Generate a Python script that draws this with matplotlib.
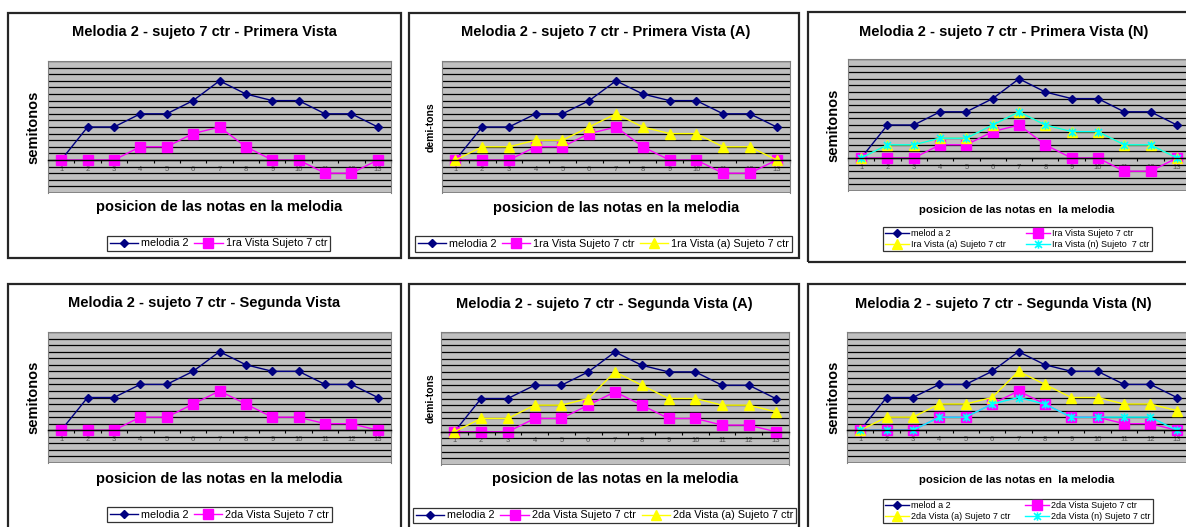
import matplotlib
matplotlib.use("Agg")
import matplotlib.pyplot as plt
from matplotlib.patches import Rectangle
from matplotlib.path import Path

plt.rcParams['font.family'] = ['Liberation Sans', 'DejaVu Sans']

# ---------------- data ----------------
notes = list(range(1, 14))
melodia2 = [0, 5, 5, 7, 7, 9, 12, 10, 9, 9, 7, 7, 5]
vista1 = [0, 0, 0, 2, 2, 4, 5, 2, 0, 0, -2, -2, 0]
vista1_a = [0, 2, 2, 3, 3, 5, 7, 5, 4, 4, 2, 2, 0]
vista1_n = [0, 2, 2, 3, 3, 5, 7, 5, 4, 4, 2, 2, 0]
vista2 = [0, 0, 0, 2, 2, 4, 6, 4, 2, 2, 1, 1, 0]
vista2_a = [0, 2, 2, 4, 4, 5, 9, 7, 5, 5, 4, 4, 3]
vista2_n = [0, 0, 0, 2, 2, 4, 5, 4, 2, 2, 2, 2, 0]

W, H = 1186, 527
fig = plt.figure(figsize=(W / 100, H / 100), dpi=100)
fig.patch.set_facecolor('white')

star = Path([(-1, -1), (1, 1), (-1, 1), (1, -1), (0, -1.2), (0, 1.2)],
            [Path.MOVETO, Path.LINETO, Path.MOVETO, Path.LINETO, Path.MOVETO, Path.LINETO])

STYLES = {
    'mel': dict(color='#000080', marker='D', markersize=4, markerfacecolor='#000080', markeredgecolor='#000080'),
    'v': dict(color='#FF00FF', marker='s', markersize=6.5, markerfacecolor='#FF00FF', markeredgecolor='#FF00FF'),
    'a': dict(color='#FFFF00', marker='^', markersize=7, markerfacecolor='#FFFF00', markeredgecolor='#FFFF00'),
    'n': dict(color='#00FFFF', marker=star, markersize=6, markerfacecolor='none', markeredgecolor='#00FFFF', markeredgewidth=1.2),
}


def fbox(x0, y0, x1, y1):
    return [x0 / W, 1 - y1 / H, (x1 - x0) / W, (y1 - y0) / H]


def panel(box, plot, title, title_xy, title_fs, ylabel, ylab_x, ylab_fs,
          xlab, xlab_xy, xlab_fs, series, leg_box, leg_ncol, leg_fs):
    bx0, by0, bx1, by1 = box
    fig.patches.append(Rectangle((bx0 / W, 1 - by1 / H), (bx1 - bx0) / W, (by1 - by0) / H,
                                 transform=fig.transFigure, fill=False,
                                 edgecolor='#262626', linewidth=1.6, zorder=0))
    ax = fig.add_axes(fbox(*plot))
    ax.set_facecolor('#C0C0C0')
    ax.set_xlim(0.5, 13.5)
    ax.set_ylim(-5, 15)
    ax.set_yticks(range(-5, 16))
    ax.yaxis.grid(True, color='black', linewidth=0.9)
    ax.set_axisbelow(True)
    ax.tick_params(axis='y', left=False, labelleft=False)
    for s in ['top', 'right', 'left']:
        ax.spines[s].set_color('#808080')
        ax.spines[s].set_linewidth(0.8)
    ax.spines['bottom'].set_position(('data', 0))
    ax.spines['bottom'].set_color('black')
    ax.spines['bottom'].set_linewidth(1.0)
    ax.set_xticks(notes)
    ax.set_xticklabels([str(n) for n in notes])
    ax.set_xticks([n + 0.5 for n in range(0, 14)], minor=True)
    ax.tick_params(axis='x', which='major', length=0, labelsize=5.5, labelcolor='#555555', pad=4)
    ax.tick_params(axis='x', which='minor', length=2.5, width=0.8, color='black', direction='out')
    ax.axhline(-5, color='#808080', linewidth=1.2)
    ax.axhline(15, color='#808080', linewidth=1.2)

    handles = []
    for key, vals, label in series:
        ln, = ax.plot(notes, vals, linewidth=1.0, label=label, clip_on=False, **STYLES[key])
        handles.append(ln)

    fig.text(title_xy[0] / W, 1 - title_xy[1] / H, title, ha='center', va='center',
             fontsize=title_fs, fontweight='bold')
    fig.text(ylab_x / W, 1 - (plot[1] + plot[3]) / 2 / H, ylabel, ha='center', va='center',
             rotation=90, fontsize=ylab_fs, fontweight='bold')
    fig.text(xlab_xy[0] / W, 1 - xlab_xy[1] / H, xlab, ha='center', va='center',
             fontsize=xlab_fs, fontweight='bold')

    lx0, ly0, lx1, ly1 = leg_box
    if leg_ncol == 2 and len(handles) == 4:
        order = [0, 2, 1, 3]
        handles = [handles[i] for i in order]
    leg = fig.legend(handles=handles, labels=[h.get_label() for h in handles],
                     loc='center', bbox_to_anchor=fbox(lx0, ly0, lx1, ly1),
                     bbox_transform=fig.transFigure, ncol=leg_ncol, mode='expand',
                     fontsize=leg_fs, frameon=True, fancybox=False, borderpad=0.25,
                     handlelength=2.6, handletextpad=0.3, columnspacing=1.0,
                     labelspacing=0.15, borderaxespad=0.0, numpoints=1)
    leg.get_frame().set_edgecolor('black')
    leg.get_frame().set_linewidth(0.9)
    return ax


XL = 'posicion de las notas en la melodia'
XL2 = 'posicion de las notas en  la melodia'
TFS = 10.5
LFS = 7.8

# top row
panel((8, 13, 401, 258), (48, 61, 391, 193), 'Melodia 2 - sujeto 7 ctr - Primera Vista', (204, 32), TFS,
      'semitonos', 33, 10.5, XL, (219, 207), 10.5,
      [('mel', melodia2, 'melodia 2'), ('v', vista1, '1ra Vista Sujeto 7 ctr')],
      (107, 233, 330, 254), 2, LFS)

panel((409, 13, 799, 258), (442, 61, 790, 193), 'Melodia 2 - sujeto 7 ctr - Primera Vista (A)', (606, 32), TFS,
      'demi-tons', 431, 7.5, XL, (616, 208), 10.5,
      [('mel', melodia2, 'melodia 2'), ('v', vista1, '1ra Vista Sujeto 7 ctr'),
       ('a', vista1_a, '1ra Vista (a) Sujeto 7 ctr')],
      (415, 233, 792, 255), 3, LFS)

panel((808, 12, 1200, 262), (848, 59, 1190, 191), 'Melodia 2 - sujeto 7 ctr - Primera Vista (N)', (1004, 32), TFS,
      'semitonos', 833, 10.5, XL2, (1017, 210), 8.2,
      [('mel', melodia2, 'melod a 2'), ('v', vista1, 'Ira Vista Sujeto 7 ctr'),
       ('a', vista1_a, 'Ira Vista (a) Sujeto 7 ctr'), ('n', vista1_n, 'Ira Vista (n) Sujeto  7 ctr')],
      (883, 224, 1152, 254), 2, 6.5)

# bottom row
panel((8, 284, 401, 540), (48, 332, 391, 463), 'Melodia 2 - sujeto 7 ctr - Segunda Vista', (204, 303), TFS,
      'semitonos', 33, 10.5, XL, (219, 479), 10.5,
      [('mel', melodia2, 'melodia 2'), ('v', vista2, '2da Vista Sujeto 7 ctr')],
      (107, 504, 332, 525), 2, LFS)

panel((409, 284, 799, 540), (441, 332, 789, 465), 'Melodia 2 - sujeto 7 ctr - Segunda Vista (A)', (604, 304), TFS,
      'demi-tons', 431, 7.5, XL, (615, 479), 10.5,
      [('mel', melodia2, 'melodia 2'), ('v', vista2, '2da Vista Sujeto 7 ctr'),
       ('a', vista2_a, '2da Vista (a) Sujeto 7 ctr')],
      (413, 504, 796, 527), 3, LFS)

panel((808, 284, 1200, 540), (847, 332, 1190, 463), 'Melodia 2 - sujeto 7 ctr - Segunda Vista (N)', (1003, 304), TFS,
      'semitonos', 833, 10.5, XL2, (1017, 480), 8.2,
      [('mel', melodia2, 'melod a 2'), ('v', vista2, '2da Vista Sujeto 7 ctr'),
       ('a', vista2_a, '2da Vista (a) Sujeto 7 ctr'), ('n', vista2_n, '2da Vista (n) Sujeto 7 ctr')],
      (883, 495, 1153, 527), 2, 6.5)

fig.savefig('out.png', dpi=100)
